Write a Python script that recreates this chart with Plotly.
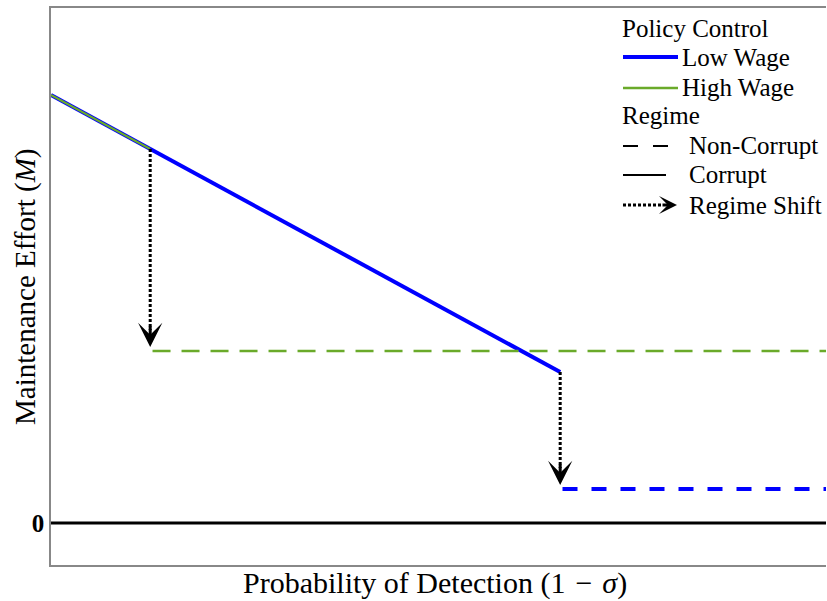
import plotly.graph_objects as go

# Probability of detection (x) and maintenance effort (y) for each path
x_start = 0.0
x_shift_high = 0.128      # high wage switches regime here
x_shift_low = 0.657       # low wage switches regime here
x_end = 1.0

m_start = 4.28
m_at_shift_high = 3.74
m_at_shift_low = 1.51
m_high_noncorrupt = 1.72
m_low_noncorrupt = 0.34
m_zero = 0.0

y_range = [-0.42, 5.15]

BLUE = "#0000ff"
GREEN = "#6aaa2a"
SERIF = "Liberation Serif"

fig = go.Figure()

# corrupt regime baseline
fig.add_trace(go.Scatter(x=[x_start, x_end], y=[m_zero, m_zero], mode="lines",
                         line=dict(color="black", width=3), hoverinfo="skip"))

# low wage, corrupt regime (solid)
fig.add_trace(go.Scatter(x=[x_start, x_shift_high, x_shift_low],
                         y=[m_start, m_at_shift_high, m_at_shift_low],
                         mode="lines", line=dict(color=BLUE, width=4), hoverinfo="skip"))
# high wage, corrupt regime (solid, overlapping segment)
fig.add_trace(go.Scatter(x=[x_start, x_shift_high], y=[m_start, m_at_shift_high],
                         mode="lines", line=dict(color=GREEN, width=2), hoverinfo="skip"))

# non-corrupt regimes (dashed)
fig.add_trace(go.Scatter(x=[x_shift_high + 0.003, x_end], y=[m_high_noncorrupt] * 2,
                         mode="lines", line=dict(color=GREEN, width=2.5, dash="18px,11px"),
                         hoverinfo="skip"))
fig.add_trace(go.Scatter(x=[x_shift_low + 0.003, x_end], y=[m_low_noncorrupt] * 2,
                         mode="lines", line=dict(color=BLUE, width=4, dash="15px,14px"),
                         hoverinfo="skip"))

# regime shifts: dotted drop with arrowhead
shifts = [(x_shift_high, m_at_shift_high, m_high_noncorrupt),
          (x_shift_low, m_at_shift_low, m_low_noncorrupt)]
for xs, y_from, y_to in shifts:
    tip = y_to + 0.04
    fig.add_trace(go.Scatter(x=[xs, xs], y=[y_from, tip + 0.17], mode="lines",
                             line=dict(color="black", width=3, dash="3px,2px"),
                             hoverinfo="skip"))
    fig.add_annotation(x=xs, y=tip, xref="x", yref="y", ax=0, ay=-22,
                       axref="pixel", ayref="pixel", showarrow=True,
                       arrowhead=3, arrowsize=1.35, arrowwidth=3, arrowcolor="black",
                       text="")

# legend and axis titles, placed in paper coordinates
L, R, T, B = 51, 826, 8, 565


def px(xp):
    return (xp - L) / (R - L)


def py(yp):
    return (B - yp) / (B - T)


leg_font = dict(family=SERIF, size=25, color="black")


def leg_text(txt, xp, yp):
    fig.add_annotation(x=px(xp), y=py(yp), xref="paper", yref="paper", text=txt,
                       showarrow=False, xanchor="left", yanchor="middle", font=leg_font)


def leg_line(x0, x1, yp, color, width, dash="solid"):
    fig.add_shape(type="line", xref="paper", yref="paper", x0=px(x0), x1=px(x1),
                  y0=py(yp), y1=py(yp), line=dict(color=color, width=width, dash=dash))


leg_text("Policy Control", 620, 28)
leg_line(623, 678, 57, BLUE, 4)
leg_text("Low Wage", 680, 57)
leg_line(623, 678, 88, GREEN, 2.5)
leg_text("High Wage", 680, 87)
leg_text("Regime", 620, 115)
leg_line(623, 668, 146, "black", 2, "15px,15px")
leg_text("Non-Corrupt", 687, 145)
leg_line(623, 666, 175, "black", 2)
leg_text("Corrupt", 687, 175)
leg_line(623, 662, 205, "black", 3, "3px,2px")
fig.add_annotation(x=px(677), y=py(205), xref="paper", yref="paper", ax=-16, ay=0,
                   axref="pixel", ayref="pixel", showarrow=True, arrowhead=3,
                   arrowsize=1.0, arrowwidth=3, arrowcolor="black", text="")
leg_text("Regime Shift", 687, 205)

# axis titles
fig.add_annotation(x=px(435), y=py(583), xref="paper", yref="paper",
                   text="Probability of Detection (1\u2004\u2212\u2004<i>σ</i>)",
                   showarrow=False, xanchor="center", yanchor="middle",
                   font=dict(family=SERIF, size=30, color="black"))
fig.add_annotation(x=px(25), y=py(287), xref="paper", yref="paper",
                   text="Maintenance Effort (<i>M</i>)", textangle=-90,
                   showarrow=False, xanchor="center", yanchor="middle",
                   font=dict(family=SERIF, size=29, color="black"))

fig.update_layout(
    width=827, height=601,
    margin=dict(l=L, r=827 - R, t=T, b=601 - B),
    plot_bgcolor="white", paper_bgcolor="white",
    showlegend=False,
    font=dict(family=SERIF, color="black"),
)
fig.update_xaxes(range=[x_start, x_end], showgrid=False, zeroline=False,
                 showticklabels=False, ticks="", showline=True, mirror=True,
                 linecolor="#888888", linewidth=1.5)
fig.update_yaxes(range=y_range, showgrid=False, zeroline=False,
                 tickvals=[m_zero], ticktext=["<b>0</b>"], ticks="",
                 tickfont=dict(family=SERIF, size=25), showline=True,
                 linecolor="#888888", linewidth=1.5)

fig.write_html("out.html")
